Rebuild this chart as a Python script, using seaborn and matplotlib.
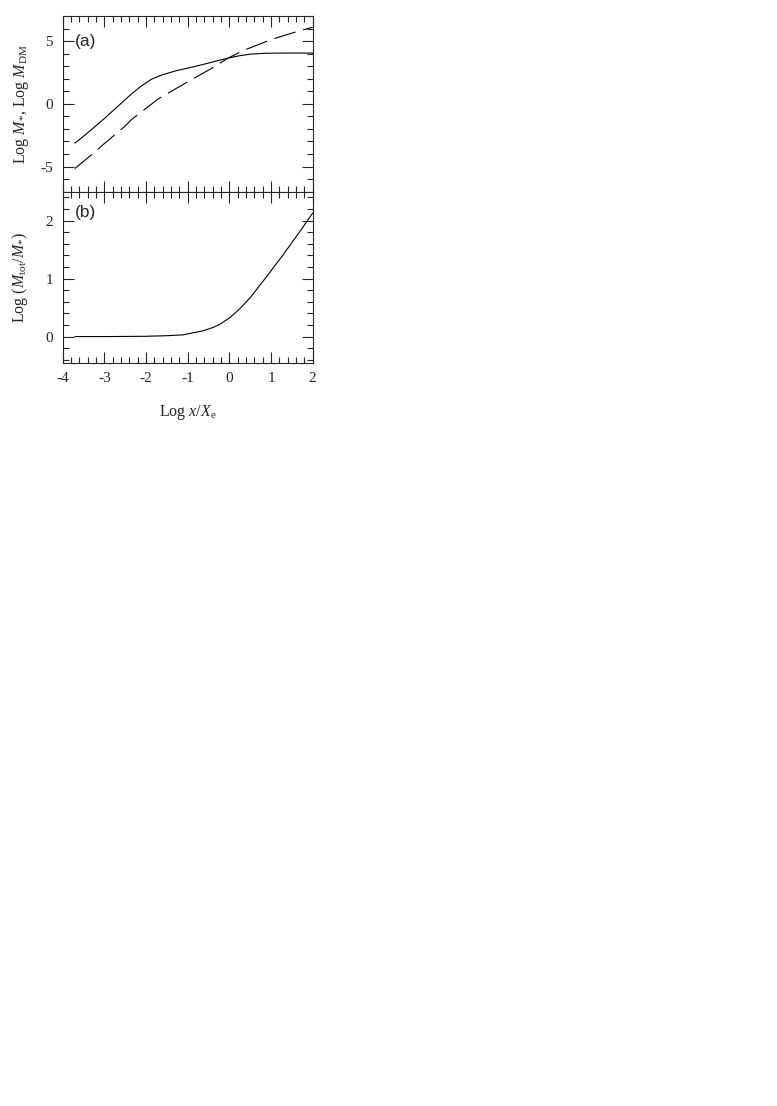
import numpy as np
import pandas as pd
import seaborn as sns
import matplotlib.pyplot as plt
from matplotlib.ticker import MultipleLocator

# panel (a): log stellar mass (solid) and log dark matter mass (dashed)
x_star = [-3.71, -3.46, -2.98, -2.34, -2.10, -1.86, -1.62, -1.30, -0.90, -0.5, -0.03, 0.25, 0.53, 0.8, 1.0, 1.5, 2.0]
m_star = [-3.13, -2.48, -1.11, 0.82, 1.45, 1.98, 2.30, 2.62, 2.92, 3.25, 3.65, 3.84, 3.97, 4.02, 4.04, 4.05, 4.05]
x_dm = [-3.71, -3.22, -3.04, -2.51, -2.35, -1.86, -1.70, -1.30, -0.90, -0.35, -0.03, 0.34, 1.0, 1.5, 2.0]
m_dm = [-5.16, -3.82, -3.28, -1.80, -1.26, 0.0, 0.41, 1.18, 1.94, 2.97, 3.65, 4.26, 5.12, 5.64, 6.11]

# panel (b): log(M_tot / M_*)
x_ratio = [-3.71, -3.0, -2.0, -1.5, -1.11, -0.63, -0.40, -0.23, 0.02, 0.25, 0.5, 0.9, 1.29, 1.69, 2.0]
ratio = [0.0, 0.0, 0.005, 0.015, 0.03, 0.10, 0.155, 0.21, 0.33, 0.48, 0.67, 1.04, 1.41, 1.81, 2.13]

sns.set_theme(style='ticks')
plt.rcParams['font.family'] = ['Liberation Serif', 'DejaVu Serif']
plt.rcParams['mathtext.fontset'] = 'custom'
plt.rcParams['mathtext.rm'] = 'Liberation Serif'
plt.rcParams['mathtext.it'] = 'Liberation Serif:italic'
plt.rcParams['axes.linewidth'] = 0.8

df_a1 = pd.DataFrame({'x': x_star, 'y': m_star})
df_a2 = pd.DataFrame({'x': x_dm, 'y': m_dm})
df_b = pd.DataFrame({'x': x_ratio, 'y': ratio})

fig = plt.figure(figsize=(7.77, 11.06), dpi=100)
ax1 = fig.add_axes([0.0807, 0.8267, 0.3217, 0.1588])
ax2 = fig.add_axes([0.0807, 0.6721, 0.3217, 0.1546])

sns.lineplot(data=df_a1, x='x', y='y', ax=ax1, color='black', lw=0.8)
sns.lineplot(data=df_a2, x='x', y='y', ax=ax1, color='black', lw=0.8, linestyle=(0, (20, 7)))
sns.lineplot(data=df_b, x='x', y='y', ax=ax2, color='black', lw=0.8)

for ax in (ax1, ax2):
    ax.set_xlim(-4, 2)
    ax.xaxis.set_major_locator(MultipleLocator(1))
    ax.xaxis.set_minor_locator(MultipleLocator(0.2))
    ax.tick_params(which='both', direction='in', top=True, right=True, labelsize=11, width=0.8, pad=7)
    ax.tick_params(which='major', length=8)
    ax.tick_params(which='minor', length=4)
    ax.set_xlabel('')

ax1.set_ylim(-7, 7)
ax1.set_yticks([-5, 0, 5])
ax1.set_yticklabels(['-5', '0', '5'])
ax1.yaxis.set_minor_locator(MultipleLocator(1))
ax1.tick_params(labelbottom=False)
ax1.set_ylabel(r'Log $\mathit{M}_{*}$, Log $\mathit{M}_{\rm DM}$', fontsize=11.5, labelpad=7)
ax1.text(0.05, 0.9, '(a)', transform=ax1.transAxes, fontsize=12.5, family='Liberation Sans', va='top')

ax2.set_ylim(-0.45, 2.5)
ax2.set_yticks([0, 1, 2])
ax2.set_yticklabels(['0', '1', '2'])
ax2.yaxis.set_minor_locator(MultipleLocator(0.2))
ax2.set_xticks([-4, -3, -2, -1, 0, 1, 2])
ax2.set_xticklabels(['-4', '-3', '-2', '-1', '0', '1', '2'])
ax2.set_ylabel(r'Log ($\mathit{M}_{\rm tot}$/$\mathit{M}_{*}$)', fontsize=11.5, labelpad=11)
ax2.set_xlabel(r'Log $\mathit{x}$/$\mathit{X}_{\rm e}$', fontsize=11.5, labelpad=13)
ax2.text(0.05, 0.92, '(b)', transform=ax2.transAxes, fontsize=12.5, family='Liberation Sans', va='top')

fig.savefig('out.png', dpi=100)
